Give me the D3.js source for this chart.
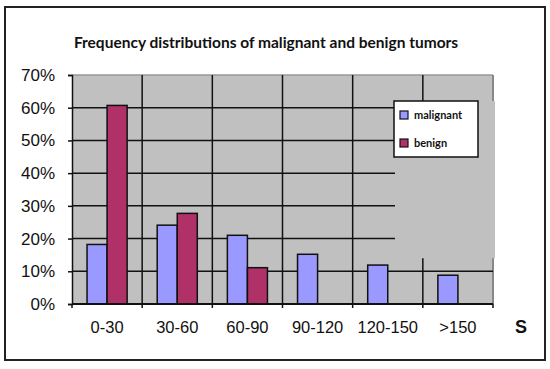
<!DOCTYPE html>
<html>
<head>
<meta charset="utf-8">
<script src="https://cdn.jsdelivr.net/npm/d3@7"></script>
<style>
  body { margin: 0; background: #fff; }
  svg { display: block; }
</style>
</head>
<body>
<div id="chart"></div>
<script>
// data
var categories = ["0-30", "30-60", "60-90", "90-120", "120-150", ">150"];
var seriesNames = ["malignant", "benign"];
var malignant = [0.182, 0.241, 0.21, 0.152, 0.119, 0.088];
var benign = [0.607, 0.277, 0.111, 0, 0, 0];
var yTicks = [0, 0.1, 0.2, 0.3, 0.4, 0.5, 0.6, 0.7];

var colors = { malignant: "#9999ff", benign: "#b03068" };

var width = 550, height = 369;
var plot = { left: 72, right: 493, top: 75, bottom: 304 };

var svg = d3.select("#chart").append("svg")
  .attr("width", width)
  .attr("height", height);

// outer frame
svg.append("rect")
  .attr("x", 5).attr("y", 7)
  .attr("width", 540).attr("height", 353)
  .attr("fill", "#fff")
  .attr("stroke", "#222")
  .attr("stroke-width", 2);

var x0 = d3.scaleBand()
  .domain(categories)
  .range([plot.left, plot.right])
  .padding(0);

var x1 = d3.scaleBand()
  .domain(seriesNames)
  .range([0, x0.bandwidth()])
  .paddingInner(0)
  .paddingOuter(0.75);

var y = d3.scaleLinear()
  .domain([0, 0.7])
  .range([plot.bottom, plot.top]);

// grey plot area
svg.append("rect")
  .attr("x", plot.left).attr("y", plot.top)
  .attr("width", plot.right - plot.left)
  .attr("height", plot.bottom - plot.top)
  .attr("fill", "#c0c0c0");

// top and right edge of plot area
svg.append("line")
  .attr("x1", plot.left).attr("x2", plot.right)
  .attr("y1", plot.top).attr("y2", plot.top)
  .attr("stroke", "#999").attr("stroke-width", 1.5);
svg.append("line")
  .attr("x1", plot.right).attr("x2", plot.right)
  .attr("y1", plot.top).attr("y2", plot.bottom)
  .attr("stroke", "#888").attr("stroke-width", 2);

// horizontal grid
svg.append("g")
  .selectAll("line")
  .data(yTicks.filter(function(d) { return d > 0 && d < 0.7; }))
  .enter().append("line")
    .attr("x1", plot.left).attr("x2", plot.right)
    .attr("y1", function(d) { return y(d); })
    .attr("y2", function(d) { return y(d); })
    .attr("stroke", "#111").attr("stroke-width", 1.5);

// vertical grid on category boundaries
svg.append("g")
  .selectAll("line")
  .data(categories.slice(1))
  .enter().append("line")
    .attr("x1", function(d) { return x0(d); })
    .attr("x2", function(d) { return x0(d); })
    .attr("y1", plot.top).attr("y2", plot.bottom)
    .attr("stroke", "#111").attr("stroke-width", 1.5);

// legend position
var legend = { x: 394, y: 101, w: 84, h: 56 };

// patched area round the legend (grid missing there)
svg.append("rect")
  .attr("x", legend.x + 1)
  .attr("y", legend.y)
  .attr("width", plot.right + 2 - legend.x - 1)
  .attr("height", y(0.14) - legend.y)
  .attr("fill", "#c0c0c0");

// bars
var groups = svg.append("g")
  .selectAll("g")
  .data(categories)
  .enter().append("g")
    .attr("transform", function(d) { return "translate(" + x0(d) + ",0)"; });

groups.selectAll("rect")
  .data(function(d, i) {
    return [
      { key: "malignant", value: malignant[i] },
      { key: "benign", value: benign[i] }
    ].filter(function(e) { return e.value > 0; });
  })
  .enter().append("rect")
    .attr("x", function(d) { return x1(d.key); })
    .attr("y", function(d) { return y(d.value); })
    .attr("width", x1.bandwidth())
    .attr("height", function(d) { return y(0) - y(d.value); })
    .attr("fill", function(d) { return colors[d.key]; })
    .attr("stroke", "#111")
    .attr("stroke-width", 1.5);

// y axis
var yAxis = svg.append("g")
  .attr("transform", "translate(" + plot.left + ",0)")
  .call(d3.axisLeft(y).tickValues(yTicks).tickFormat(d3.format(".0%")).tickSize(4).tickPadding(13));
yAxis.select(".domain").attr("stroke", "#111").attr("stroke-width", 1.5);
yAxis.selectAll(".tick line").attr("stroke", "#111").attr("stroke-width", 1.5);
yAxis.selectAll("text")
  .style("font-family", "Liberation Sans, Arial, sans-serif")
  .style("font-size", "17px")
  .attr("fill", "#111");

// x axis
svg.append("line")
  .attr("x1", plot.left).attr("x2", plot.right)
  .attr("y1", plot.bottom).attr("y2", plot.bottom)
  .attr("stroke", "#111").attr("stroke-width", 2);

svg.append("g")
  .selectAll("line")
  .data(categories.concat(["end"]))
  .enter().append("line")
    .attr("x1", function(d) { return d === "end" ? plot.right : x0(d); })
    .attr("x2", function(d) { return d === "end" ? plot.right : x0(d); })
    .attr("y1", plot.bottom).attr("y2", plot.bottom + 4)
    .attr("stroke", "#111").attr("stroke-width", 1.5);

var xAxis = svg.append("g")
  .attr("transform", "translate(0," + plot.bottom + ")")
  .call(d3.axisBottom(x0).tickSize(0).tickPadding(17));
xAxis.select(".domain").remove();
xAxis.selectAll("text")
  .style("font-family", "Liberation Sans, Arial, sans-serif")
  .style("font-size", "16.5px")
  .attr("fill", "#111");

svg.append("text")
  .attr("x", 521).attr("y", 333)
  .attr("text-anchor", "middle")
  .style("font-family", "Liberation Sans, Arial, sans-serif")
  .style("font-size", "18px")
  .style("font-weight", "bold")
  .attr("fill", "#111")
  .text("S");

// title
svg.append("text")
  .attr("x", 266).attr("y", 48)
  .attr("text-anchor", "middle")
  .style("font-family", "Lato, sans-serif")
  .style("font-size", "15.5px")
  .style("font-weight", "bold")
  .attr("fill", "#111")
  .text("Frequency distributions of malignant and benign tumors");

// legend
var leg = svg.append("g");
leg.append("rect")
  .attr("x", legend.x).attr("y", legend.y)
  .attr("width", legend.w).attr("height", legend.h)
  .attr("fill", "#fff")
  .attr("stroke", "#111").attr("stroke-width", 1.5);

var items = leg.selectAll("g.item")
  .data(seriesNames)
  .enter().append("g")
    .attr("class", "item")
    .attr("transform", function(d, i) { return "translate(" + (legend.x + 6) + "," + (legend.y + 10 + i * 28) + ")"; });
items.append("rect")
  .attr("width", 8).attr("height", 8)
  .attr("fill", function(d) { return colors[d]; })
  .attr("stroke", "#111").attr("stroke-width", 1.2);
items.append("text")
  .attr("x", 14).attr("y", 4).attr("dy", "0.35em")
  .style("font-family", "Lato, sans-serif")
  .style("font-size", "11px")
  .style("font-weight", "bold")
  .attr("fill", "#111")
  .text(function(d) { return d; });
</script>
</body>
</html>
